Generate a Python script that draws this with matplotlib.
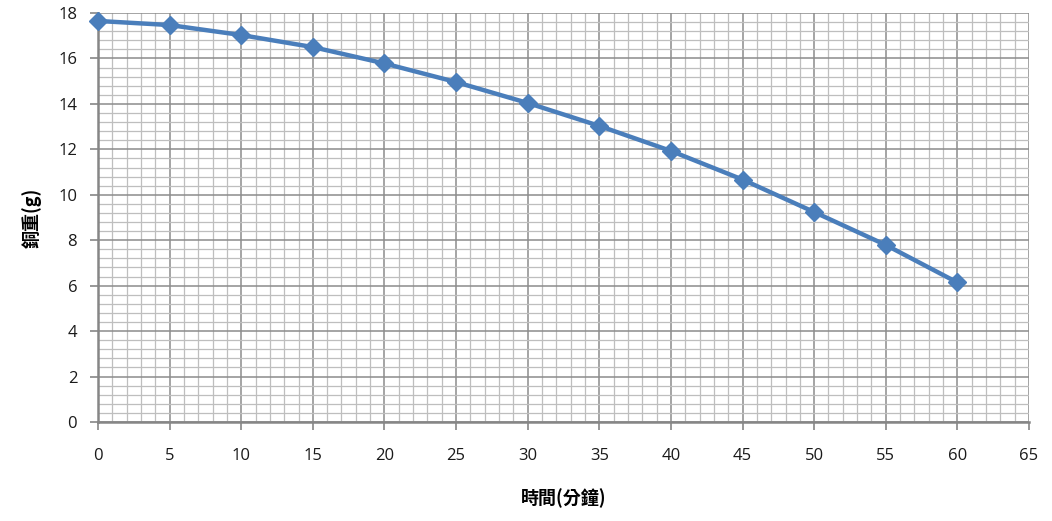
import matplotlib.pyplot as plt
from matplotlib.ticker import MultipleLocator

plt.rcParams['font.family'] = ['Noto Sans CJK TC', 'DejaVu Sans']

# data
minutes = [0, 5, 10, 15, 20, 25, 30, 35, 40, 45, 50, 55, 60]
copper_weight = [17.65, 17.47, 17.03, 16.5, 15.78, 14.96, 14.04, 13.03, 11.93, 10.67, 9.24, 7.79, 6.14]

fig = plt.figure(figsize=(10.52, 5.21), dpi=100)
ax = fig.add_axes([98 / 1052, 1 - 422 / 521, 931 / 1052, 409 / 521])

ax.plot(minutes, copper_weight, color='#4A7EBB', linewidth=3.2, marker='D',
        markersize=9, markerfacecolor='#4A7EBB', markeredgecolor='#4A7EBB',
        zorder=5, clip_on=False)

ax.set_xlim(0, 65)
ax.set_ylim(0, 18)
ax.xaxis.set_major_locator(MultipleLocator(5))
ax.xaxis.set_minor_locator(MultipleLocator(1))
ax.yaxis.set_major_locator(MultipleLocator(2))
ax.yaxis.set_minor_locator(MultipleLocator(0.4))

ax.grid(which='major', color='#8C8C8C', linewidth=1.1)
ax.grid(which='minor', color='#BEBEBE', linewidth=0.9)
ax.set_axisbelow(True)

for s in ['top', 'right']:
    ax.spines[s].set_visible(False)
for s in ['left', 'bottom']:
    ax.spines[s].set_color('#868686')
    ax.spines[s].set_linewidth(1.8)

ax.tick_params(which='major', length=6, width=1.2, color='#868686',
               labelsize=12, labelcolor='#1a1a1a')
ax.tick_params(axis='x', which='major', pad=13)
ax.tick_params(axis='y', which='major', pad=9)
ax.tick_params(which='minor', length=0)

for lab in ax.get_xticklabels() + ax.get_yticklabels():
    lab.set_family(['Open Sans', 'DejaVu Sans'])

ax.set_xlabel('時間(分鐘)', fontsize=13, fontweight='bold', labelpad=17)
ax.set_ylabel('銅重(g)', fontsize=13, fontweight='bold', labelpad=12)

fig.savefig('out.png', dpi=100)
